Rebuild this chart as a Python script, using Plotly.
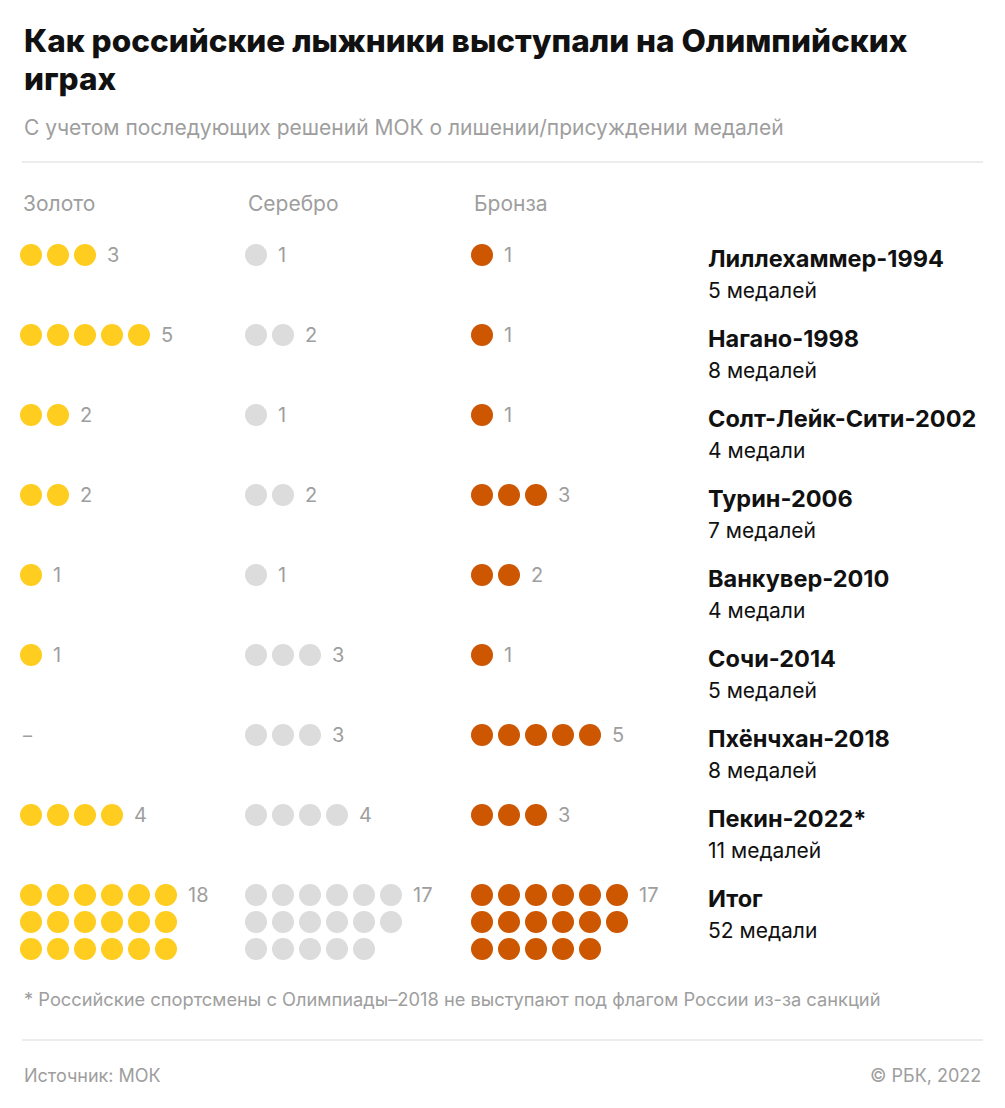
import plotly.graph_objects as go

# Medal counts per Games (Russian cross-country skiers)
games = ["Лиллехаммер-1994", "Нагано-1998", "Солт-Лейк-Сити-2002", "Турин-2006",
         "Ванкувер-2010", "Сочи-2014", "Пхёнчхан-2018", "Пекин-2022*"]
gold = [3, 5, 2, 2, 1, 1, 0, 4]
silver = [1, 2, 1, 2, 1, 3, 3, 4]
bronze = [1, 1, 1, 3, 2, 1, 5, 3]
medal_names = ["Золото", "Серебро", "Бронза"]
colors = ["#ffcd1f", "#dcdcdc", "#cd5700"]

W, H = 1005, 1108
PAD = 8                      # page body margin in the browser
col_x = [31, 256, 482]      # first dot centre per medal column
step_x = 27
row_y0, row_step = 255, 80
tot_step_y = 27
per_row_total = 6
FONT = "Inter, Roboto, sans-serif"
GREY = "#9e9e9e"


def medal_word(n):
    if n % 10 in (2, 3, 4) and n % 100 not in (12, 13, 14):
        return f"{n} медали"
    if n % 10 == 1 and n % 100 != 11:
        return f"{n} медаль"
    return f"{n} медалей"


fig = go.Figure()
ann = []
series = [gold, silver, bronze]

for m, vals in enumerate(series):
    xs, ys = [], []
    for i, v in enumerate(vals):
        y = row_y0 + i * row_step
        for k in range(v):
            xs.append(col_x[m] + k * step_x)
            ys.append(y)
        if v > 0:
            ann.append(dict(x=col_x[m] + (v - 1) * step_x + 20, y=y, text=str(v),
                            xanchor="left", font=dict(size=20, color=GREY)))
        else:
            ann.append(dict(x=col_x[m] - 10, y=y, text="–",
                            xanchor="left", font=dict(size=18, color=GREY)))
    # total row, wrapped
    total = sum(vals)
    ty = row_y0 + len(vals) * row_step
    for k in range(total):
        xs.append(col_x[m] + (k % per_row_total) * step_x)
        ys.append(ty + (k // per_row_total) * tot_step_y)
    ann.append(dict(x=col_x[m] + (per_row_total - 1) * step_x + 20, y=ty, text=str(total),
                    xanchor="left", font=dict(size=20, color=GREY)))
    fig.add_trace(go.Scatter(x=xs, y=ys, mode="markers", hoverinfo="skip",
                             marker=dict(size=22, color=colors[m], line=dict(width=0))))
    ann.append(dict(x=col_x[m] - 10, y=203, text=medal_names[m], xanchor="left",
                    font=dict(size=21, color=GREY)))

# right labels
names = games + ["Итог"]
totals = [g + s + b for g, s, b in zip(gold, silver, bronze)]
totals.append(sum(totals))
for i, (nm, t) in enumerate(zip(names, totals)):
    y = row_y0 + i * row_step
    ann.append(dict(x=706, y=y + 3, text=f"<b>{nm}</b>", xanchor="left",
                    font=dict(size=23.5, color="#111111")))
    ann.append(dict(x=706, y=y + 35, text=medal_word(t), xanchor="left",
                    font=dict(size=21, color="#111111")))

# titles and notes
ann += [
    dict(x=22, y=40, text="Как российские лыжники выступали на Олимпийских",
         xanchor="left", font=dict(size=31.5, color="#111111", weight=800)),
    dict(x=22, y=78, text="играх", xanchor="left",
         font=dict(size=31.5, color="#111111", weight=800)),
    dict(x=22, y=127, text="С учетом последующих решений МОК о лишении/присуждении медалей",
         xanchor="left", font=dict(size=21, color=GREY)),
    dict(x=22, y=999, text="* Российские спортсмены с Олимпиады–2018 не выступают под флагом России из-за санкций",
         xanchor="left", font=dict(size=18.3, color=GREY)),
    dict(x=22, y=1075, text="Источник: МОК", xanchor="left",
         font=dict(size=18, color=GREY)),
    dict(x=983, y=1075, text="© РБК, 2022", xanchor="right",
         font=dict(size=18, color=GREY)),
]
for a in ann:
    a.update(xref="x", yref="y", yanchor="middle", showarrow=False)

fig.update_layout(
    width=W - 2 * PAD, height=H - 2 * PAD,
    margin=dict(l=0, r=0, t=0, b=0),
    paper_bgcolor="white", plot_bgcolor="white",
    showlegend=False,
    font=dict(family=FONT),
    xaxis=dict(range=[PAD, W - PAD], visible=False, fixedrange=True),
    yaxis=dict(range=[H - PAD, PAD], visible=False, fixedrange=True),
    annotations=ann,
    shapes=[
        dict(type="line", xref="x", yref="y", x0=22, x1=983, y0=162, y1=162,
             line=dict(color="#e6e6e6", width=1.5)),
        dict(type="line", xref="x", yref="y", x0=22, x1=983, y0=1040, y1=1040,
             line=dict(color="#e6e6e6", width=1.5)),
    ],
)

fig.write_html("out.html")
